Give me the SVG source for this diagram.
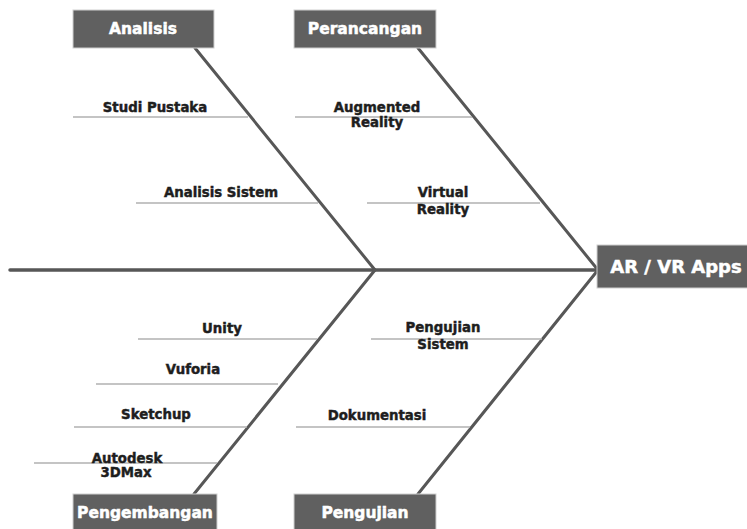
<svg xmlns="http://www.w3.org/2000/svg" width="747" height="529" viewBox="0 0 747 529">
<style>
.box{fill:#606060;stroke:#cfcfcf;stroke-width:1}
.bt{font-family:"DejaVu Sans",sans-serif;font-weight:bold;font-size:15.5px;fill:#fff;stroke:#fff;stroke-width:0.5;text-anchor:middle}
.bone{stroke:#575757;stroke-width:3;fill:none;stroke-linecap:round}
.sub{stroke:#b0b0b0;stroke-width:1.4;fill:none}
.st{font-family:"DejaVu Sans",sans-serif;font-weight:bold;font-size:13.3px;fill:#1e1e1e;stroke:#1e1e1e;stroke-width:0.45;text-anchor:middle}
</style>
<rect width="747" height="529" fill="#fff"/>
<g id="connectors">
<line class="bone" x1="10" y1="270" x2="598" y2="270" style="stroke-width:3.5"/>
<line class="bone" x1="195" y1="48" x2="375" y2="270"/>
<line class="bone" x1="418" y1="48" x2="598" y2="270"/>
<line class="bone" x1="375" y1="270" x2="194" y2="494"/>
<line class="bone" x1="598" y1="270" x2="418" y2="494"/>
<line class="sub" x1="73" y1="117" x2="248" y2="117"/>
<line class="sub" x1="295" y1="117" x2="472" y2="117"/>
<line class="sub" x1="136" y1="203" x2="318" y2="203"/>
<line class="sub" x1="367" y1="203" x2="540" y2="203"/>
<line class="sub" x1="138" y1="339" x2="317" y2="339"/>
<line class="sub" x1="96" y1="384" x2="278" y2="384"/>
<line class="sub" x1="74" y1="427" x2="247" y2="427"/>
<line class="sub" x1="34" y1="463" x2="217" y2="463"/>
<line class="sub" x1="371" y1="339" x2="542" y2="339"/>
<line class="sub" x1="296" y1="427" x2="470" y2="427"/>
</g>
<g id="analisis"><rect class="box" x="73" y="10" width="141" height="38"/><text class="bt" x="143" y="34">Analisis</text></g>
<g id="perancangan"><rect class="box" x="294" y="10" width="142" height="38"/><text class="bt" x="365" y="34">Perancangan</text></g>
<g id="arvr"><rect class="box" x="597" y="245" width="152" height="43"/><text class="bt" x="676" y="273" style="font-size:18px">AR / VR Apps</text></g>
<g id="pengembangan"><rect class="box" x="73" y="494" width="144" height="40"/><text class="bt" x="145" y="518">Pengembangan</text></g>
<g id="pengujian"><rect class="box" x="294" y="494" width="142" height="40"/><text class="bt" x="365" y="518">Pengujian</text></g>
<g id="studi-pustaka"><text class="st" x="155" y="112">Studi Pustaka</text></g>
<g id="augmented-reality"><text class="st" x="377" y="112">Augmented</text><text class="st" x="377" y="127">Reality</text></g>
<g id="analisis-sistem"><text class="st" x="221" y="197">Analisis Sistem</text></g>
<g id="virtual-reality"><text class="st" x="443" y="197">Virtual</text><text class="st" x="443" y="214">Reality</text></g>
<g id="unity"><text class="st" x="222" y="333">Unity</text></g>
<g id="vuforia"><text class="st" x="193" y="374">Vuforia</text></g>
<g id="sketchup"><text class="st" x="156" y="419">Sketchup</text></g>
<g id="autodesk"><text class="st" x="127" y="463">Autodesk</text><text class="st" x="126" y="477">3DMax</text></g>
<g id="pengujian-sistem"><text class="st" x="443" y="332">Pengujian</text><text class="st" x="443" y="349">Sistem</text></g>
<g id="dokumentasi"><text class="st" x="377" y="420">Dokumentasi</text></g>
</svg>
